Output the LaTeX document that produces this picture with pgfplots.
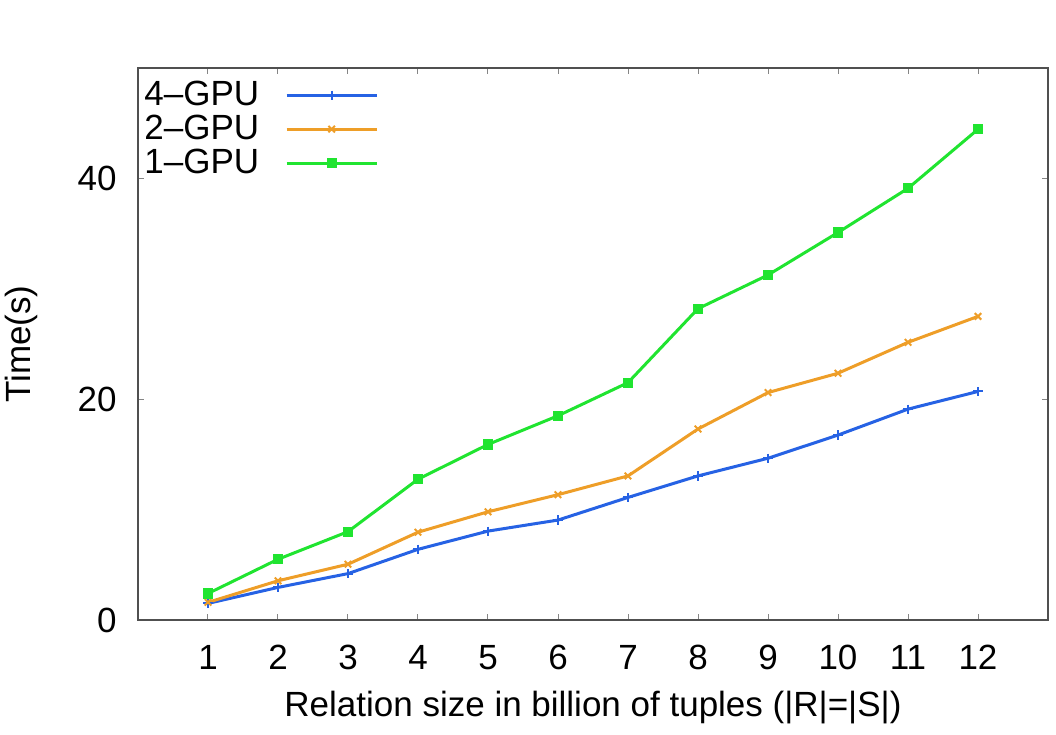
\documentclass[border=0pt]{standalone}
\usepackage{pgfplots}
\pgfplotsset{compat=1.18}
\usepackage{fontspec}
\setmainfont{Liberation Sans}
\definecolor{cblue}{RGB}{38,98,228}
\definecolor{corange}{RGB}{238,158,40}
\definecolor{cgreen}{RGB}{32,228,48}
\definecolor{frame}{RGB}{80,80,80}
\begin{document}
\begin{tikzpicture}
\begin{axis}[
  width=455pt, height=276pt, scale only axis,
  xmin=0, xmax=13, ymin=0, ymax=50,
  xtick={1,2,3,4,5,6,7,8,9,10,11,12},
  ytick={0,20,40},
  tick align=inside, xtick pos=both, ytick pos=both,
  major tick length=3pt,
  every tick/.style={frame!70, line width=0.5pt},
  axis line style={frame, line width=0.9pt},
  /pgf/number format/assume math mode=true,
  tick label style={font=\fontsize{17.5}{20}\selectfont},
  xticklabel style={anchor=center, inner sep=0pt, yshift=-18.75pt},
  yticklabel style={anchor=east, inner sep=0pt, xshift=-10.5pt},
  xlabel={Relation size in billion of tuples (|R|=|S|)},
  ylabel={Time(s)},
  label style={font=\fontsize{17.5}{20}\selectfont},
  xlabel style={at={(axis description cs:0.5,-0.1585)}, anchor=center},
  ylabel style={at={(axis description cs:-0.1286,0.5)}, anchor=center, rotate=0},
  legend plot pos=right,
  legend cell align=right,
  legend style={at={(axis description cs:0,1)}, anchor=north west, draw=none, fill=none,
    font=\fontsize{17.5}{20}\selectfont, inner sep=1pt, row sep=-0.7pt, column sep=11pt,
    nodes={inner sep=2pt}, yshift=-3.5pt},
  legend image code/.code={\draw[mark repeat=2,mark phase=2] plot coordinates {(0pt,0pt) (22.5pt,0pt) (45pt,0pt)};},
]
\addplot[cblue, line width=1.5pt, mark=+, mark size=2.3pt, mark options={line width=1pt}] coordinates {
(1,1.5) (2,2.95) (3,4.2) (4,6.4) (5,8.05) (6,9.05) (7,11.1) (8,13.05) (9,14.65) (10,16.75) (11,19.1) (12,20.7)};
\addlegendentry{4--GPU}
\addplot[corange, line width=1.5pt, mark=x, mark size=2.3pt, mark options={line width=1pt}] coordinates {
(1,1.6) (2,3.55) (3,5.05) (4,7.95) (5,9.8) (6,11.35) (7,13.05) (8,17.3) (9,20.6) (10,22.35) (11,25.15) (12,27.5)};
\addlegendentry{2--GPU}
\addplot[cgreen, line width=1.5pt, mark=square*, mark size=1.8pt] coordinates {
(1,2.4) (2,5.5) (3,8.0) (4,12.75) (5,15.9) (6,18.5) (7,21.5) (8,28.2) (9,31.25) (10,35.1) (11,39.1) (12,44.45)};
\addlegendentry{1--GPU}
\end{axis}
\pgfresetboundingbox
\path ([shift={(-69pt,-57.5pt)}]current axis.south west) rectangle ([shift={(4pt,34pt)}]current axis.north east);
\end{tikzpicture}
\end{document}
